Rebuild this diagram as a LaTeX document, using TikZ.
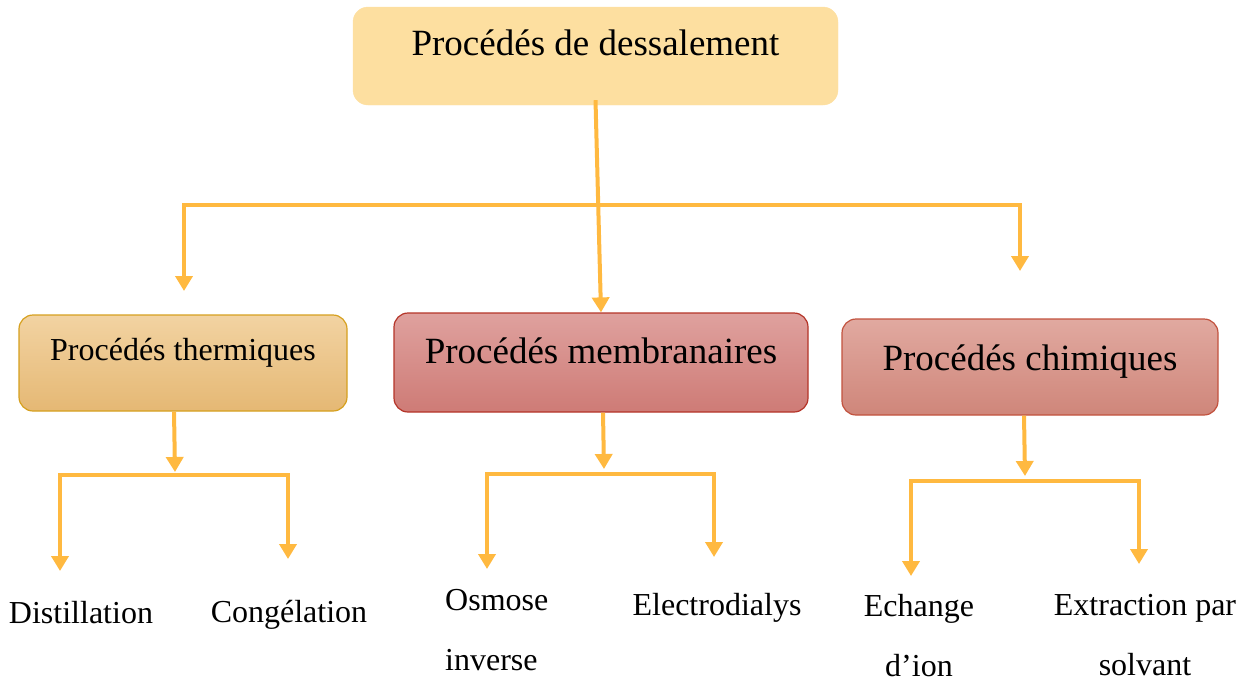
\documentclass[tikz,border=0pt]{standalone}
\usepackage{fontspec}
\setmainfont{Liberation Serif}
\usepackage{tikz}
\usetikzlibrary{arrows.meta, shapes, positioning}
\usepackage{xcolor}
\definecolor{arrowyellow}{RGB}{255,185,64}
\definecolor{peach}{RGB}{253,223,160}
\definecolor{thermtop}{RGB}{242,211,162}
\definecolor{thermbottom}{RGB}{229,184,116}
\definecolor{thermline}{RGB}{214,160,30}
\definecolor{membtop}{RGB}{223,161,158}
\definecolor{membbottom}{RGB}{206,123,118}
\definecolor{membline}{RGB}{180,52,40}
\definecolor{chimtop}{RGB}{225,169,160}
\definecolor{chimbottom}{RGB}{207,134,122}
\definecolor{chimline}{RGB}{194,82,62}

\begin{document}
\begin{tikzpicture}[
        x=1pt, y=-1pt,
        line join=miter,
        flowarrow/.style={draw=arrowyellow, line width=4pt, -{Triangle[width=17pt, length=15pt]}},
        forkarrow/.style={draw=arrowyellow, line width=4pt, {Triangle[width=17pt, length=15pt]}-{Triangle[width=17pt, length=15pt]}},
        mainbox/.style={rounded corners=15pt, fill=peach, draw=peach, inner sep=0pt, minimum width=485pt, minimum height=98pt, font={\fontsize{37}{44}\selectfont}},
        thermbox/.style={rounded corners=14pt, top color=thermtop, bottom color=thermbottom, draw=thermline, line width=1.2pt, inner sep=0pt, minimum width=328pt, minimum height=96pt, font={\fontsize{32}{38}\selectfont}},
        membbox/.style={rounded corners=14pt, top color=membtop, bottom color=membbottom, draw=membline, line width=1.2pt, inner sep=0pt, minimum width=414pt, minimum height=99pt, font={\fontsize{37}{44}\selectfont}},
        chimbox/.style={rounded corners=14pt, top color=chimtop, bottom color=chimbottom, draw=chimline, line width=1.2pt, inner sep=0pt, minimum width=376pt, minimum height=96pt, font={\fontsize{37}{44}\selectfont}},
        leaf/.style={inner sep=0pt, font={\fontsize{32}{60}\selectfont}}
    ]
        \useasboundingbox (0, 0) rectangle (1246, 681);
        % Boxes
        \node[mainbox, text height=28pt, text depth=30pt] (dessal) at (595.5, 56) {Procédés de dessalement};
        \node[thermbox, text height=24pt, text depth=30pt] (therm) at (183, 363) {Procédés thermiques};
        \node[membbox, text height=28pt, text depth=27pt] (memb) at (601, 362.5) {Procédés membranaires};
        \node[chimbox, text height=28pt, text depth=22pt] (chim) at (1030, 367) {Procédés chimiques};
        % Leaves (base = last line)
        \node[leaf, anchor=base] (distil) at (81, 623) {Distillation};
        \node[leaf, anchor=base] (congel) at (289, 622) {Congélation};
        \node[leaf, anchor=base west, align=left] (osmose) at (445, 670) {Osmose\\inverse};
        \node[leaf, anchor=base] (electro) at (717, 615) {Electrodialys};
        \node[leaf, anchor=base, align=center] (echange) at (919, 676) {Echange\\d’ion};
        \node[leaf, anchor=base, align=center] (extract) at (1145, 675) {Extraction par\\solvant};
        % Arrow ends
        \coordinate (thermtip) at (184, 291);
        \coordinate (chimcorner) at (1020, 205);
        \coordinate (chimtip) at (1020, 271);
        \coordinate (thermfork) at (175, 472);
        \coordinate (distiltip) at (60, 571);
        \coordinate (congelcorner) at (288, 475);
        \coordinate (congeltip) at (288, 559);
        \coordinate (membfork) at (604, 469);
        \coordinate (osmosetip) at (487, 569);
        \coordinate (electrocorner) at (714, 474);
        \coordinate (electrotip) at (714, 557);
        \coordinate (chimfork) at (1025, 476);
        \coordinate (echangetip) at (911, 576);
        \coordinate (extractcorner) at (1139, 481);
        \coordinate (extracttip) at (1139, 564);
        % Arrows
        \draw[flowarrow] ([yshift=5pt]dessal.south) -- (memb.north);
        \draw[forkarrow] (thermtip) |- (chimcorner) -- (chimtip);
        \draw[flowarrow] ([xshift=-9pt]therm.south) -- (thermfork);
        \draw[forkarrow] (distiltip) |- (congelcorner) -- (congeltip);
        \draw[flowarrow] ([xshift=2pt]memb.south) -- (membfork);
        \draw[forkarrow] (osmosetip) |- (electrocorner) -- (electrotip);
        \draw[flowarrow] ([xshift=-6pt]chim.south) -- (chimfork);
        \draw[forkarrow] (echangetip) |- (extractcorner) -- (extracttip);
    \end{tikzpicture}
\end{document}
